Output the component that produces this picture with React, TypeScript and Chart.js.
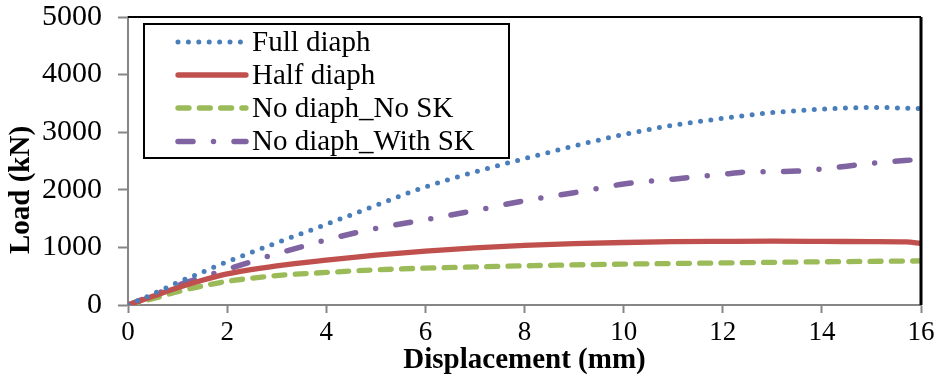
import { useEffect, useRef } from "react";
import { Chart, registerables } from "chart.js";

Chart.register(...registerables);

const seriesNames = ["Full diaph", "Half diaph", "No diaph_No SK", "No diaph_With SK"];

const fullX = [0, 0.5, 1, 1.5, 2, 3, 4, 5, 6, 7, 8, 9, 10, 11, 12, 13, 14, 15, 16];
const fullY = [0, 190, 390, 570, 750, 1080, 1400, 1730, 2050, 2310, 2540, 2760, 2960, 3120, 3240, 3340, 3400, 3430, 3410];

const halfX = [0, 0.5, 1, 1.5, 2, 3, 4, 5, 6, 7, 8, 9, 10, 11, 12, 13, 14, 15, 15.7, 16];
const halfY = [0, 150, 300, 430, 540, 680, 780, 865, 935, 990, 1035, 1065, 1085, 1100, 1105, 1108, 1105, 1100, 1095, 1070];

const noSkX = [0, 0.5, 1, 1.5, 2, 3, 4, 5, 6, 8, 10, 12, 14, 16];
const noSkY = [0, 110, 230, 330, 410, 510, 565, 610, 640, 680, 710, 730, 750, 765];

const withSkX = [0, 0.5, 1, 1.5, 2, 2.5, 3, 3.5, 4, 5, 6, 7, 8, 9, 10, 11, 12, 12.5, 13, 13.5, 14, 15, 16];
const withSkY = [0, 170, 340, 480, 620, 755, 890, 1010, 1130, 1330, 1480, 1640, 1810, 1950, 2100, 2185, 2270, 2310, 2315, 2325, 2360, 2460, 2530];

const xTickValues = [0, 2, 4, 6, 8, 10, 12, 14, 16];
const yTickValues = [0, 1000, 2000, 3000, 4000, 5000];

const colors = ["#4A7EBB", "#C0504D", "#9BBB59", "#8064A2"];
const dashes = [[0, 10.4], [], [11, 10.3], [15, 20.5, 0, 20.5]];
const widths = [5, 5.3, 5.3, 5.5];

const FONT = "'Liberation Serif', 'Times New Roman', serif";

function toPoints(xs: number[], ys: number[]) {
  return xs.map((x, i) => ({ x, y: ys[i] }));
}

const decorPlugin = {
  id: "decor",
  afterDraw(chart: any) {
    const { ctx, chartArea } = chart;
    const { left, right, top, bottom } = chartArea;
    ctx.save();
    ctx.strokeStyle = "#000";
    ctx.lineWidth = 2;
    ctx.beginPath();
    ctx.moveTo(left, top);
    ctx.lineTo(right, top);
    ctx.stroke();
    ctx.lineWidth = 3;
    ctx.beginPath();
    ctx.moveTo(right, top);
    ctx.lineTo(right, bottom);
    ctx.stroke();

    ctx.save();
    ctx.translate(22, 190);
    ctx.rotate(-Math.PI / 2);
    ctx.font = `bold 29px ${FONT}`;
    ctx.fillStyle = "#000";
    ctx.textAlign = "center";
    ctx.textBaseline = "middle";
    ctx.fillText("Load (kN)", 0, 0);
    ctx.restore();

    const bx = 144, by = 24, bw = 365, bh = 134;
    ctx.fillStyle = "#fff";
    ctx.fillRect(bx, by, bw, bh);
    ctx.strokeStyle = "#000";
    ctx.lineWidth = 2;
    ctx.strokeRect(bx, by, bw, bh);
    const rows = [42, 75, 108, 141.5];
    seriesNames.forEach((name, i) => {
      const y = rows[i];
      ctx.save();
      ctx.strokeStyle = colors[i];
      ctx.lineWidth = widths[i];
      ctx.lineCap = "round";
      ctx.setLineDash(dashes[i]);
      ctx.beginPath();
      ctx.moveTo(178, y);
      ctx.lineTo(246, y);
      ctx.stroke();
      ctx.restore();
      ctx.font = `29px ${FONT}`;
      ctx.fillStyle = "#000";
      ctx.textAlign = "left";
      ctx.textBaseline = "middle";
      ctx.fillText(name, 252, y + 1);
    });
    ctx.restore();
  },
};

export default function App() {
  const ref = useRef<HTMLCanvasElement | null>(null);
  useEffect(() => {
    if (!ref.current) return;
    const series = [
      toPoints(fullX, fullY),
      toPoints(halfX, halfY),
      toPoints(noSkX, noSkY),
      toPoints(withSkX, withSkY),
    ];
    const chart = new Chart(ref.current, {
      type: "line",
      data: {
        datasets: series.map((d, i) => ({
          label: seriesNames[i],
          data: d,
          borderColor: colors[i],
          backgroundColor: colors[i],
          borderWidth: widths[i],
          borderDash: dashes[i],
          borderCapStyle: "round",
          borderJoinStyle: "round",
          pointRadius: 0,
          cubicInterpolationMode: "monotone",
          fill: false,
        })),
      },
      options: {
        animation: false,
        responsive: false,
        layout: { padding: { top: 17, right: 18, left: 0, bottom: 0 } },
        plugins: {
          legend: { display: false },
          tooltip: { enabled: false },
        },
        scales: {
          x: {
            type: "linear",
            min: 0,
            max: 16,
            afterBuildTicks: (scale: any) => {
              scale.ticks = xTickValues.map((v) => ({ value: v }));
            },
            afterFit: (scale: any) => {
              scale.height = 76;
              scale.paddingLeft = 0;
              scale.paddingRight = 0;
            },
            grid: {
              drawOnChartArea: false,
              drawTicks: true,
              tickLength: 8,
              tickWidth: 2,
              tickColor: "#868686",
            },
            border: { display: true, color: "#868686", width: 2 },
            ticks: {
              color: "#000",
              font: { family: FONT, size: 27 },
              padding: 4,
              maxRotation: 0,
              callback: (v: any) => String(v),
            },
            title: {
              display: true,
              text: "Displacement (mm)",
              color: "#000",
              font: { family: FONT, size: 29, weight: "bold" },
              padding: { top: 0, bottom: 3 },
            },
          },
          y: {
            type: "linear",
            min: 0,
            max: 5000,
            afterBuildTicks: (scale: any) => {
              scale.ticks = yTickValues.map((v) => ({ value: v }));
            },
            afterFit: (scale: any) => {
              scale.width = 128;
              scale.paddingTop = 0;
              scale.paddingBottom = 0;
            },
            grid: {
              drawOnChartArea: false,
              drawTicks: true,
              tickLength: 10,
              tickWidth: 2,
              tickColor: "#868686",
            },
            border: { display: true, color: "#868686", width: 2 },
            ticks: {
              color: "#000",
              font: { family: FONT, size: 30 },
              padding: 16,
              callback: (v: any) => String(v),
            },
          },
        },
      },
      plugins: [decorPlugin],
    });
    return () => chart.destroy();
  }, []);
  return (
    <div style={{ position: "absolute", left: 0, top: 0, width: 939, height: 381, background: "#fff" }}>
      <canvas ref={ref} width={939} height={381} style={{ display: "block" }} />
    </div>
  );
}
